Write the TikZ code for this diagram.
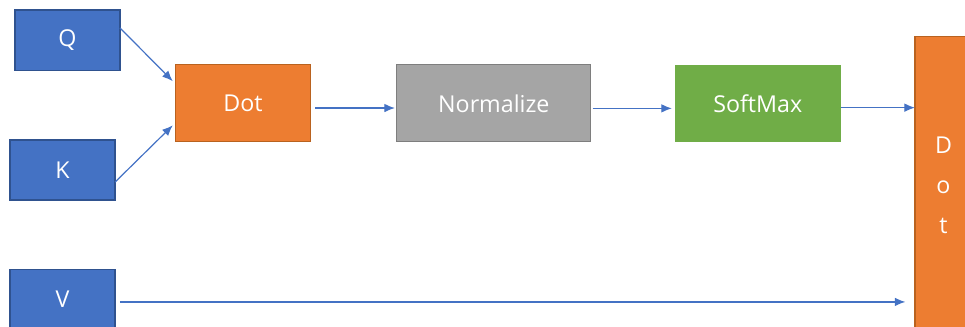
\documentclass[tikz,border=0pt]{standalone}
\usepackage{fontspec}
\setmainfont{Open Sans}
\usepackage{tikz}
\usetikzlibrary{arrows.meta, positioning}
\usepackage{xcolor}
\definecolor{InBlue}{HTML}{4472C4}
\definecolor{InBlueEdge}{HTML}{2F528F}
\definecolor{DotOrange}{HTML}{ED7D31}
\definecolor{DotOrangeEdge}{HTML}{B9621F}
\definecolor{NormGray}{HTML}{A5A5A5}
\definecolor{NormGrayEdge}{HTML}{7E7E7E}
\definecolor{SoftGreen}{HTML}{70AD47}
\tikzset{%
  box/.style={%
    rectangle,%
    inner sep=0pt,%
    outer sep=0pt,%
    line width=0.8pt,%
    text=white,%
    font={\fontsize{17.5}{21}\selectfont},%
    align=center%
  },
  input_block/.style={%
    box,%
    fill=InBlue,%
    draw=InBlueEdge,%
    minimum width=1.094in,%
    minimum height=0.625in%
  },
  dot_block/.style={%
    box,%
    fill=DotOrange,%
    draw=DotOrangeEdge,%
    minimum width=1.406in,%
    minimum height=0.8in%
  },
  norm_block/.style={%
    box,%
    fill=NormGray,%
    draw=NormGrayEdge,%
    minimum width=2.02in,%
    minimum height=0.8in%
  },
  softmax_block/.style={%
    box,%
    fill=SoftGreen,%
    minimum width=1.729in,%
    minimum height=0.8in%
  },
  out_block/.style={%
    box,%
    fill=DotOrange,%
    draw=DotOrangeEdge,%
    minimum width=0.594in,%
    minimum height=3.09in,%
    font={\fontsize{17.5}{30}\selectfont}%
  },
  signal/.style={%
    color=InBlue,%
    line width=0.9pt,%
    line join=round%
  },
  arrow/.style={-{Latex[length=0.8em, width=0.65em]}},
}

\begin{document}
\begin{tikzpicture}[x=1in, y=1in]

    \useasboundingbox (0, 0) rectangle (10.052, -3.406);

    \node [input_block] (Q) at (0.703, -0.417) {Q};
    \node [input_block] (K) at (0.651, -1.771) {K};
    \node [input_block] (V) at (0.651, -3.115) {V};

    \node [dot_block] (Dot) at (2.531, -1.076) {Dot};
    \node [norm_block, right = 0.90in of Dot] (Normalize) {Normalize};
    \node [softmax_block, right = 0.875in of Normalize] (SoftMax) {SoftMax};
    \node [out_block] (DotV) at (9.828, -1.927) {D\\o\\t};

    \draw [arrow, signal, shorten >=0.04in]
      (Q.13) -- (Dot.164);
    \draw [arrow, signal, shorten >=0.04in]
      (K.-13) -- (Dot.196);
    \draw [arrow, signal, shorten <=0.05in, shorten >=0.02in]
      (Dot.-4) -- (Dot.-4 -| Normalize.west);
    \draw [arrow, signal, shorten <=0.02in, shorten >=0.03in]
      (Normalize.-3) -- (Normalize.-3 -| SoftMax.west);
    \draw [arrow, signal]
      (SoftMax.-3) -- (SoftMax.-3 -| DotV.west);
    \draw [arrow, signal, shorten <=0.05in, shorten >=0.1in]
      ([yshift=-0.03in]V.east) -- ([yshift=-0.03in]V.east -| DotV.west);

\end{tikzpicture}
\end{document}
